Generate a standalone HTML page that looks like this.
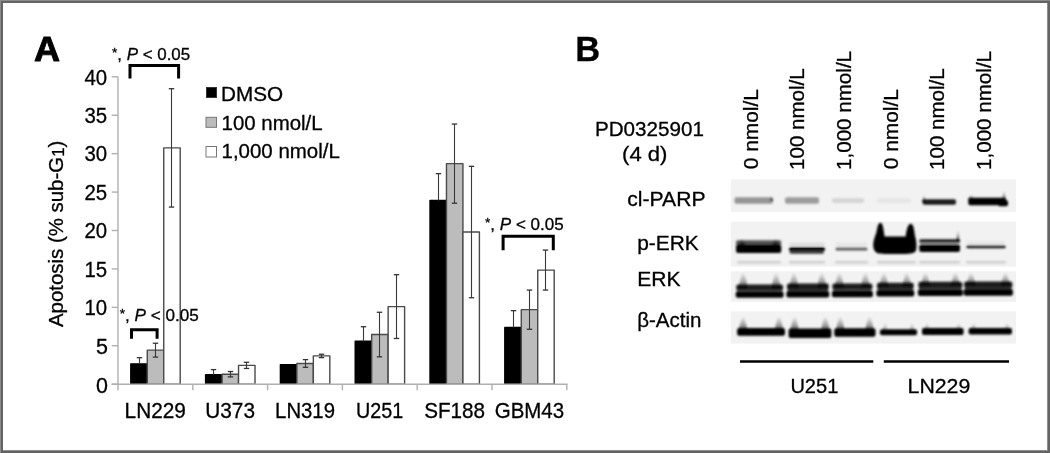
<!DOCTYPE html>
<html><head><meta charset="utf-8"><style>
html,body{margin:0;padding:0;background:#fff;}
body{width:1050px;height:453px;overflow:hidden;position:relative;}
svg{position:absolute;left:0;top:0;}
.t{font-family:"Liberation Sans",sans-serif;fill:#000;stroke:#000;stroke-width:0.3px;}
.b{font-family:"Liberation Sans",sans-serif;font-weight:bold;fill:#000;stroke:#000;stroke-width:0.9px;stroke-linejoin:round;}
.b2{stroke-width:0.3px;}
</style></head><body>
<svg width="1050" height="453" viewBox="0 0 1050 453">
<defs><linearGradient id="eg" x1="0" y1="0" x2="0" y2="1"><stop offset="0" stop-color="#000" stop-opacity="0"/><stop offset="0.6" stop-color="#000" stop-opacity="0.45"/><stop offset="1" stop-color="#000" stop-opacity="1"/></linearGradient>
<filter id="bb" x="-5%" y="-30%" width="110%" height="160%"><feGaussianBlur stdDeviation="1.3"/></filter>
<filter id="sb" x="-2%" y="-10%" width="104%" height="120%"><feGaussianBlur stdDeviation="0.6"/></filter></defs>
<rect x="0" y="0" width="1050" height="453" fill="#646464"/>
<rect x="0" y="0" width="1050" height="1" fill="#8a8a8a"/><rect x="0" y="0" width="1" height="453" fill="#8a8a8a"/>
<rect x="1047" y="3" width="1" height="448" fill="#8e8e8e"/><rect x="3" y="450" width="1045" height="1" fill="#8e8e8e"/>
<rect x="3" y="3" width="1044" height="447" fill="#fff"/>

<path d="M130 78.5 V65.5 H178.6 V78.5" fill="none" stroke="#000" stroke-width="3"/>
<path d="M131.5 338.7 V329.7 H157.1 V338.7" fill="none" stroke="#000" stroke-width="3"/>
<path d="M503.1 250.3 V236.3 H553.3 V250.3" fill="none" stroke="#000" stroke-width="3"/>
<rect x="206.5" y="87.5" width="10" height="10" fill="#000" stroke="#333"/>
<rect x="206" y="117.3" width="10.5" height="10" fill="#bcbcbc" stroke="#777"/>
<rect x="206" y="146.5" width="10.5" height="10.5" fill="#fff" stroke="#777"/>
<rect x="731" y="179.3" width="285" height="32.6" fill="#f2f2f2" filter="url(#sb)"/>
<rect x="731" y="221.6" width="285" height="45.0" fill="#f2f2f2" filter="url(#sb)"/>
<rect x="731" y="271.3" width="285" height="30.7" fill="#f2f2f2" filter="url(#sb)"/>
<rect x="731" y="311.4" width="285" height="32.2" fill="#f2f2f2" filter="url(#sb)"/>
<g filter="url(#bb)">
<rect x="734.5" y="197.2" width="38.5" height="6.6" rx="2.0" fill="#959595" opacity="1"/>
<path d="M770.0 201.0 C770.0 199.5 770.9 197.5 771.1 196.0 L771.9 196.0 C772.1 197.5 773.0 199.5 773.0 201.0 Z" fill="url(#eg)" opacity="1"/>
<rect x="785" y="197.2" width="34.0" height="6.6" rx="2.0" fill="#9c9c9c" opacity="1"/>
<rect x="832" y="198.3" width="32.0" height="4.7" rx="2.0" fill="#d4d4d4" opacity="1"/>
<rect x="877" y="198.5" width="34.0" height="4.3" rx="2.0" fill="#e4e4e4" opacity="1"/>
<rect x="922.6" y="199.3" width="33.4" height="5.5" rx="2.0" fill="#1e1e1e" opacity="1"/>
<path d="M922.2 202.0 C922.2 200.1 923.3 197.4 923.6 195.5 L924.4 195.5 C924.7 197.4 925.8 200.1 925.8 202.0 Z" fill="url(#eg)" opacity="1"/>
<rect x="968.3" y="197.8" width="37.7" height="7.5" rx="2.0" fill="#000" opacity="1"/>
<path d="M968.0 200.0 C968.0 198.5 969.8 196.5 970.3 195.0 L971.7 195.0 C972.2 196.5 974.0 198.5 974.0 200.0 Z" fill="url(#eg)" opacity="1"/>
<path d="M1002.0 201.0 C1002.0 198.0 1003.2 194.0 1003.5 191.0 L1004.5 191.0 C1004.8 194.0 1006.0 198.0 1006.0 201.0 Z" fill="url(#eg)" opacity="1"/>
<rect x="998" y="200" width="10.0" height="6.3" rx="2.0" fill="#000" opacity="1"/>
<rect x="736" y="240.2" width="45.3" height="5.3" rx="2.0" fill="#555" opacity="1"/>
<rect x="736" y="244.5" width="45.3" height="8.6" rx="2.0" fill="#000" opacity="1"/>
<path d="M738.5 246.0 C738.5 243.8 740.6 240.8 741.2 238.6 L742.8 238.6 C743.4 240.8 745.5 243.8 745.5 246.0 Z" fill="url(#eg)" opacity="1"/>
<path d="M772.0 246.0 C772.0 243.8 774.1 240.8 774.7 238.6 L776.3 238.6 C776.9 240.8 779.0 243.8 779.0 246.0 Z" fill="url(#eg)" opacity="1"/>
<rect x="789" y="242.4" width="36.0" height="3.6" rx="1.8" fill="#dcdcdc" opacity="1"/>
<rect x="789" y="247" width="36.0" height="4.2" rx="2.0" fill="#050505" opacity="1"/>
<rect x="789.5" y="250.5" width="34.5" height="3.2" rx="1.6" fill="#3a3a3a" opacity="1"/>
<rect x="835.5" y="247.5" width="32.0" height="3.1" rx="1.5" fill="#5c5c5c" opacity="1"/>
<rect x="836" y="242.5" width="31.0" height="4.0" rx="2.0" fill="#e6e6e6" opacity="1"/>
<path d="M873.2 246 C873.2 240 875 237 876.5 232 C877.5 227 878 223 880.6 222.8 C883 223 883.6 230 884.6 236.6 L905.6 236.6 C906.6 230 907.6 224 910.8 223.8 C913.6 224 914.2 230 915 236 C916.4 240 916.8 246 916.2 249.5 C915.5 253.7 910 253.9 904 253.9 L885 253.9 C878 253.9 874 253.5 873.2 246 Z" fill="#000"/>
<rect x="919.3" y="239.3" width="40.7" height="3.9" rx="1.9" fill="#1a1a1a" opacity="1"/>
<rect x="920" y="242.8" width="39.0" height="1.4" rx="0.7" fill="#b0b0b0" opacity="1"/>
<rect x="919.3" y="244.3" width="40.7" height="7.7" rx="2.0" fill="#000" opacity="1"/>
<path d="M956.5 242.0 C956.5 238.4 957.4 233.6 957.6 230.0 L958.4 230.0 C958.6 233.6 959.5 238.4 959.5 242.0 Z" fill="url(#eg)" opacity="1"/>
<rect x="966.4" y="245.3" width="39.3" height="3.0" rx="1.5" fill="#1e1e1e" opacity="1"/>
<rect x="967" y="241" width="38.0" height="3.5" rx="1.8" fill="#e6e6e6" opacity="1"/>
<rect x="737" y="261" width="44.0" height="2.6" rx="1.3" fill="#cdcdcd" opacity="1"/>
<rect x="789" y="261" width="36.0" height="2.6" rx="1.3" fill="#cdcdcd" opacity="1"/>
<rect x="835" y="261" width="33.0" height="2.6" rx="1.3" fill="#cdcdcd" opacity="1"/>
<rect x="877" y="261" width="39.0" height="2.6" rx="1.3" fill="#cdcdcd" opacity="1"/>
<rect x="919" y="261" width="41.0" height="2.6" rx="1.3" fill="#cdcdcd" opacity="1"/>
<rect x="966" y="261" width="40.0" height="2.6" rx="1.3" fill="#cdcdcd" opacity="1"/>
<rect x="736.2" y="284.5" width="46.9" height="6.0" rx="2.0" fill="#1a1a1a" opacity="1"/>
<rect x="736.7" y="290.34999999999997" width="45.9" height="1.3" rx="0.7" fill="#3a3a3a" opacity="1"/>
<rect x="735.7" y="291.54999999999995" width="47.9" height="6.3" rx="2.0" fill="#000" opacity="1"/>
<path d="M738.7 288.5 C738.7 283.7 741.4 277.3 742.1 272.5 L744.3 272.5 C745.0 277.3 747.7 283.7 747.7 288.5 Z" fill="url(#eg)" opacity="0.75"/>
<path d="M771.6 288.5 C771.6 283.7 774.3 277.3 775.0 272.5 L777.2 272.5 C777.9 277.3 780.6 283.7 780.6 288.5 Z" fill="url(#eg)" opacity="0.75"/>
<rect x="786.9" y="283.5" width="41.9" height="6.4" rx="2.0" fill="#1a1a1a" opacity="1"/>
<rect x="787.4" y="289.7" width="40.9" height="1.3" rx="0.7" fill="#3a3a3a" opacity="1"/>
<rect x="786.4" y="290.9" width="42.9" height="6.6" rx="2.0" fill="#000" opacity="1"/>
<path d="M789.4 287.5 C789.4 283.0 792.1 277.0 792.8 272.5 L795.0 272.5 C795.7 277.0 798.4 283.0 798.4 287.5 Z" fill="url(#eg)" opacity="0.75"/>
<path d="M817.3 287.5 C817.3 283.0 820.0 277.0 820.7 272.5 L822.9 272.5 C823.6 277.0 826.3 283.0 826.3 287.5 Z" fill="url(#eg)" opacity="0.75"/>
<rect x="832.4" y="283.5" width="40.0" height="6.2" rx="2.0" fill="#1a1a1a" opacity="1"/>
<rect x="832.9" y="289.55" width="39.0" height="1.3" rx="0.7" fill="#3a3a3a" opacity="1"/>
<rect x="831.9" y="290.75" width="41.0" height="6.4" rx="2.0" fill="#000" opacity="1"/>
<path d="M834.9 287.5 C834.9 283.0 837.6 277.0 838.3 272.5 L840.5 272.5 C841.2 277.0 843.9 283.0 843.9 287.5 Z" fill="url(#eg)" opacity="0.75"/>
<path d="M860.9 287.5 C860.9 283.0 863.6 277.0 864.3 272.5 L866.5 272.5 C867.2 277.0 869.9 283.0 869.9 287.5 Z" fill="url(#eg)" opacity="0.75"/>
<rect x="876.9" y="282.8" width="36.9" height="6.2" rx="2.0" fill="#1a1a1a" opacity="1"/>
<rect x="877.4" y="288.8" width="35.9" height="1.3" rx="0.7" fill="#3a3a3a" opacity="1"/>
<rect x="876.4" y="290.0" width="37.9" height="6.4" rx="2.0" fill="#000" opacity="1"/>
<path d="M879.4 286.8 C879.4 282.5 882.1 276.8 882.8 272.5 L885.0 272.5 C885.7 276.8 888.4 282.5 888.4 286.8 Z" fill="url(#eg)" opacity="0.75"/>
<path d="M902.3 286.8 C902.3 282.5 905.0 276.8 905.7 272.5 L907.9 272.5 C908.6 276.8 911.3 282.5 911.3 286.8 Z" fill="url(#eg)" opacity="0.75"/>
<rect x="918.4" y="281.8" width="44.0" height="6.5" rx="2.0" fill="#1a1a1a" opacity="1"/>
<rect x="918.9" y="288.09999999999997" width="43.0" height="1.3" rx="0.7" fill="#3a3a3a" opacity="1"/>
<rect x="917.9" y="289.29999999999995" width="45.0" height="6.7" rx="2.0" fill="#000" opacity="1"/>
<path d="M920.9 285.8 C920.9 281.8 923.6 276.5 924.3 272.5 L926.5 272.5 C927.2 276.5 929.9 281.8 929.9 285.8 Z" fill="url(#eg)" opacity="0.75"/>
<path d="M950.9 285.8 C950.9 281.8 953.6 276.5 954.3 272.5 L956.5 272.5 C957.2 276.5 959.9 281.8 959.9 285.8 Z" fill="url(#eg)" opacity="0.75"/>
<rect x="964.1" y="281.5" width="48.3" height="6.5" rx="2.0" fill="#1a1a1a" opacity="1"/>
<rect x="964.6" y="287.8" width="47.3" height="1.3" rx="0.7" fill="#3a3a3a" opacity="1"/>
<rect x="963.6" y="289.0" width="49.3" height="6.7" rx="2.0" fill="#000" opacity="1"/>
<path d="M966.6 285.5 C966.6 281.6 969.3 276.4 970.0 272.5 L972.2 272.5 C972.9 276.4 975.6 281.6 975.6 285.5 Z" fill="url(#eg)" opacity="0.75"/>
<path d="M1000.9 285.5 C1000.9 281.6 1003.6 276.4 1004.3 272.5 L1006.5 272.5 C1007.2 276.4 1009.9 281.6 1009.9 285.5 Z" fill="url(#eg)" opacity="0.75"/>
<rect x="737.1" y="327.9" width="47.9" height="7.8" rx="2.0" fill="#000" opacity="1"/>
<path d="M738.6 331.9 C738.6 327.3 741.3 321.1 742.0 316.5 L744.2 316.5 C744.9 321.1 747.6 327.3 747.6 331.9 Z" fill="url(#eg)" opacity="0.85"/>
<path d="M774.5 331.9 C774.5 327.3 777.2 321.1 777.9 316.5 L780.1 316.5 C780.8 321.1 783.5 327.3 783.5 331.9 Z" fill="url(#eg)" opacity="0.85"/>
<rect x="788.6" y="328.6" width="42.8" height="9.3" rx="2.0" fill="#000" opacity="1"/>
<path d="M790.1 332.6 C790.1 327.8 792.8 321.3 793.5 316.5 L795.7 316.5 C796.4 321.3 799.1 327.8 799.1 332.6 Z" fill="url(#eg)" opacity="0.85"/>
<path d="M820.9 332.6 C820.9 327.8 823.6 321.3 824.3 316.5 L826.5 316.5 C827.2 321.3 829.9 327.8 829.9 332.6 Z" fill="url(#eg)" opacity="0.85"/>
<rect x="834.3" y="328.2" width="41.2" height="8.6" rx="2.0" fill="#000" opacity="1"/>
<path d="M835.8 332.2 C835.8 327.5 838.5 321.2 839.2 316.5 L841.4 316.5 C842.1 321.2 844.8 327.5 844.8 332.2 Z" fill="url(#eg)" opacity="0.85"/>
<path d="M865.0 332.2 C865.0 327.5 867.7 321.2 868.4 316.5 L870.6 316.5 C871.3 321.2 874.0 327.5 874.0 332.2 Z" fill="url(#eg)" opacity="0.85"/>
<rect x="880" y="329.3" width="37.0" height="5.9" rx="2.0" fill="#000" opacity="1"/>
<path d="M882.5 332.3 C882.5 329.5 884.0 325.8 884.4 323.0 L885.6 323.0 C886.0 325.8 887.5 329.5 887.5 332.3 Z" fill="url(#eg)" opacity="0.6"/>
<path d="M909.5 332.3 C909.5 329.5 911.0 325.8 911.4 323.0 L912.6 323.0 C913.0 325.8 914.5 329.5 914.5 332.3 Z" fill="url(#eg)" opacity="0.6"/>
<rect x="922" y="327.9" width="41.6" height="7.2" rx="2.0" fill="#000" opacity="1"/>
<path d="M924.5 330.9 C924.5 328.5 926.0 325.4 926.4 323.0 L927.6 323.0 C928.0 325.4 929.5 328.5 929.5 330.9 Z" fill="url(#eg)" opacity="0.6"/>
<path d="M956.1 330.9 C956.1 328.5 957.6 325.4 958.0 323.0 L959.2 323.0 C959.6 325.4 961.1 328.5 961.1 330.9 Z" fill="url(#eg)" opacity="0.6"/>
<rect x="968.6" y="327.9" width="43.4" height="6.6" rx="2.0" fill="#000" opacity="1"/>
<path d="M971.1 330.9 C971.1 328.5 972.6 325.4 973.0 323.0 L974.2 323.0 C974.6 325.4 976.1 328.5 976.1 330.9 Z" fill="url(#eg)" opacity="0.6"/>
<path d="M1004.5 330.9 C1004.5 328.5 1006.0 325.4 1006.4 323.0 L1007.6 323.0 C1008.0 325.4 1009.5 328.5 1009.5 330.9 Z" fill="url(#eg)" opacity="0.6"/>
</g>
<line x1="740" y1="361.5" x2="873.3" y2="361.5" stroke="#000" stroke-width="2.4"/>
<line x1="883.8" y1="361.5" x2="1009" y2="361.5" stroke="#000" stroke-width="2.4"/>

<rect x="130.80" y="363.83" width="16.47" height="20.37" fill="#000" stroke="#000" stroke-width="1.4" stroke-linejoin="round"/>
<line x1="139.50" y1="357.69" x2="139.50" y2="363.83" stroke="#3a3a3a" stroke-width="1.1"/>
<line x1="136.80" y1="357.69" x2="142.20" y2="357.69" stroke="#333" stroke-width="1.3"/>
<rect x="147.27" y="350.16" width="16.47" height="34.04" fill="#bcbcbc" stroke="#4a4a4a" stroke-width="1.4" stroke-linejoin="round"/>
<line x1="155.50" y1="343.24" x2="155.50" y2="357.07" stroke="#3a3a3a" stroke-width="1.1"/>
<line x1="152.80" y1="343.24" x2="158.20" y2="343.24" stroke="#333" stroke-width="1.3"/>
<line x1="152.80" y1="357.07" x2="158.20" y2="357.07" stroke="#333" stroke-width="1.3"/>
<rect x="163.74" y="147.89" width="16.47" height="236.31" fill="#fff" stroke="#4a4a4a" stroke-width="1.4" stroke-linejoin="round"/>
<line x1="171.50" y1="88.71" x2="171.50" y2="207.06" stroke="#3a3a3a" stroke-width="1.1"/>
<line x1="168.80" y1="88.71" x2="174.20" y2="88.71" stroke="#333" stroke-width="1.3"/>
<line x1="168.80" y1="207.06" x2="174.20" y2="207.06" stroke="#333" stroke-width="1.3"/>
<rect x="205.60" y="374.67" width="16.47" height="9.53" fill="#000" stroke="#000" stroke-width="1.4" stroke-linejoin="round"/>
<line x1="213.50" y1="369.60" x2="213.50" y2="374.67" stroke="#3a3a3a" stroke-width="1.1"/>
<line x1="210.80" y1="369.60" x2="216.20" y2="369.60" stroke="#333" stroke-width="1.3"/>
<rect x="222.07" y="374.21" width="16.47" height="9.99" fill="#bcbcbc" stroke="#4a4a4a" stroke-width="1.4" stroke-linejoin="round"/>
<line x1="230.50" y1="371.52" x2="230.50" y2="376.90" stroke="#3a3a3a" stroke-width="1.1"/>
<line x1="227.80" y1="371.52" x2="233.20" y2="371.52" stroke="#333" stroke-width="1.3"/>
<line x1="227.80" y1="376.90" x2="233.20" y2="376.90" stroke="#333" stroke-width="1.3"/>
<rect x="238.54" y="365.37" width="16.47" height="18.83" fill="#fff" stroke="#4a4a4a" stroke-width="1.4" stroke-linejoin="round"/>
<line x1="246.50" y1="362.30" x2="246.50" y2="368.45" stroke="#3a3a3a" stroke-width="1.1"/>
<line x1="243.80" y1="362.30" x2="249.20" y2="362.30" stroke="#333" stroke-width="1.3"/>
<line x1="243.80" y1="368.45" x2="249.20" y2="368.45" stroke="#333" stroke-width="1.3"/>
<rect x="280.40" y="364.60" width="16.47" height="19.60" fill="#000" stroke="#000" stroke-width="1.4" stroke-linejoin="round"/>
<rect x="296.87" y="363.45" width="16.47" height="20.75" fill="#bcbcbc" stroke="#4a4a4a" stroke-width="1.4" stroke-linejoin="round"/>
<line x1="305.50" y1="359.61" x2="305.50" y2="367.29" stroke="#3a3a3a" stroke-width="1.1"/>
<line x1="302.80" y1="359.61" x2="308.20" y2="359.61" stroke="#333" stroke-width="1.3"/>
<line x1="302.80" y1="367.29" x2="308.20" y2="367.29" stroke="#333" stroke-width="1.3"/>
<rect x="313.34" y="355.92" width="16.47" height="28.28" fill="#fff" stroke="#4a4a4a" stroke-width="1.4" stroke-linejoin="round"/>
<line x1="321.50" y1="354.23" x2="321.50" y2="357.61" stroke="#3a3a3a" stroke-width="1.1"/>
<line x1="318.80" y1="354.23" x2="324.20" y2="354.23" stroke="#333" stroke-width="1.3"/>
<line x1="318.80" y1="357.61" x2="324.20" y2="357.61" stroke="#333" stroke-width="1.3"/>
<rect x="355.20" y="341.32" width="16.47" height="42.88" fill="#000" stroke="#000" stroke-width="1.4" stroke-linejoin="round"/>
<line x1="363.50" y1="326.72" x2="363.50" y2="341.32" stroke="#3a3a3a" stroke-width="1.1"/>
<line x1="360.80" y1="326.72" x2="366.20" y2="326.72" stroke="#333" stroke-width="1.3"/>
<rect x="371.67" y="334.55" width="16.47" height="49.65" fill="#bcbcbc" stroke="#4a4a4a" stroke-width="1.4" stroke-linejoin="round"/>
<line x1="379.50" y1="312.27" x2="379.50" y2="356.84" stroke="#3a3a3a" stroke-width="1.1"/>
<line x1="376.80" y1="312.27" x2="382.20" y2="312.27" stroke="#333" stroke-width="1.3"/>
<line x1="376.80" y1="356.84" x2="382.20" y2="356.84" stroke="#333" stroke-width="1.3"/>
<rect x="388.14" y="306.58" width="16.47" height="77.62" fill="#fff" stroke="#4a4a4a" stroke-width="1.4" stroke-linejoin="round"/>
<line x1="396.50" y1="274.69" x2="396.50" y2="338.47" stroke="#3a3a3a" stroke-width="1.1"/>
<line x1="393.80" y1="274.69" x2="399.20" y2="274.69" stroke="#333" stroke-width="1.3"/>
<line x1="393.80" y1="338.47" x2="399.20" y2="338.47" stroke="#333" stroke-width="1.3"/>
<rect x="430.00" y="200.53" width="16.47" height="183.67" fill="#000" stroke="#000" stroke-width="1.4" stroke-linejoin="round"/>
<line x1="438.50" y1="173.63" x2="438.50" y2="200.53" stroke="#3a3a3a" stroke-width="1.1"/>
<line x1="435.80" y1="173.63" x2="441.20" y2="173.63" stroke="#333" stroke-width="1.3"/>
<rect x="446.47" y="163.64" width="16.47" height="220.56" fill="#bcbcbc" stroke="#4a4a4a" stroke-width="1.4" stroke-linejoin="round"/>
<line x1="454.50" y1="124.06" x2="454.50" y2="203.22" stroke="#3a3a3a" stroke-width="1.1"/>
<line x1="451.80" y1="124.06" x2="457.20" y2="124.06" stroke="#333" stroke-width="1.3"/>
<line x1="451.80" y1="203.22" x2="457.20" y2="203.22" stroke="#333" stroke-width="1.3"/>
<rect x="462.94" y="232.04" width="16.47" height="152.16" fill="#fff" stroke="#4a4a4a" stroke-width="1.4" stroke-linejoin="round"/>
<line x1="471.50" y1="166.33" x2="471.50" y2="297.74" stroke="#3a3a3a" stroke-width="1.1"/>
<line x1="468.80" y1="166.33" x2="474.20" y2="166.33" stroke="#333" stroke-width="1.3"/>
<line x1="468.80" y1="297.74" x2="474.20" y2="297.74" stroke="#333" stroke-width="1.3"/>
<rect x="504.80" y="327.56" width="16.47" height="56.64" fill="#000" stroke="#000" stroke-width="1.4" stroke-linejoin="round"/>
<line x1="513.50" y1="310.65" x2="513.50" y2="327.56" stroke="#3a3a3a" stroke-width="1.1"/>
<line x1="510.80" y1="310.65" x2="516.20" y2="310.65" stroke="#333" stroke-width="1.3"/>
<rect x="521.27" y="309.66" width="16.47" height="74.54" fill="#bcbcbc" stroke="#4a4a4a" stroke-width="1.4" stroke-linejoin="round"/>
<line x1="529.50" y1="290.06" x2="529.50" y2="329.25" stroke="#3a3a3a" stroke-width="1.1"/>
<line x1="526.80" y1="290.06" x2="532.20" y2="290.06" stroke="#333" stroke-width="1.3"/>
<line x1="526.80" y1="329.25" x2="532.20" y2="329.25" stroke="#333" stroke-width="1.3"/>
<rect x="537.74" y="270.08" width="16.47" height="114.12" fill="#fff" stroke="#4a4a4a" stroke-width="1.4" stroke-linejoin="round"/>
<line x1="545.50" y1="250.10" x2="545.50" y2="290.06" stroke="#3a3a3a" stroke-width="1.1"/>
<line x1="542.80" y1="250.10" x2="548.20" y2="250.10" stroke="#333" stroke-width="1.3"/>
<line x1="542.80" y1="290.06" x2="548.20" y2="290.06" stroke="#333" stroke-width="1.3"/>
<line x1="118.0" y1="76.80000000000001" x2="118.0" y2="390.2" stroke="#b0b0b0" stroke-width="1.4"/>
<line x1="111.7" y1="384.2" x2="567.5999999999999" y2="384.2" stroke="#b0b0b0" stroke-width="1.4"/>
<line x1="111.7" y1="384.20" x2="118.0" y2="384.20" stroke="#b0b0b0" stroke-width="1.4"/>
<line x1="111.7" y1="345.77" x2="118.0" y2="345.77" stroke="#b0b0b0" stroke-width="1.4"/>
<line x1="111.7" y1="307.35" x2="118.0" y2="307.35" stroke="#b0b0b0" stroke-width="1.4"/>
<line x1="111.7" y1="268.93" x2="118.0" y2="268.93" stroke="#b0b0b0" stroke-width="1.4"/>
<line x1="111.7" y1="230.50" x2="118.0" y2="230.50" stroke="#b0b0b0" stroke-width="1.4"/>
<line x1="111.7" y1="192.07" x2="118.0" y2="192.07" stroke="#b0b0b0" stroke-width="1.4"/>
<line x1="111.7" y1="153.65" x2="118.0" y2="153.65" stroke="#b0b0b0" stroke-width="1.4"/>
<line x1="111.7" y1="115.23" x2="118.0" y2="115.23" stroke="#b0b0b0" stroke-width="1.4"/>
<line x1="111.7" y1="76.80" x2="118.0" y2="76.80" stroke="#b0b0b0" stroke-width="1.4"/>
<line x1="192.80" y1="384.2" x2="192.80" y2="390.2" stroke="#b0b0b0" stroke-width="1.4"/>
<line x1="267.60" y1="384.2" x2="267.60" y2="390.2" stroke="#b0b0b0" stroke-width="1.4"/>
<line x1="342.40" y1="384.2" x2="342.40" y2="390.2" stroke="#b0b0b0" stroke-width="1.4"/>
<line x1="417.20" y1="384.2" x2="417.20" y2="390.2" stroke="#b0b0b0" stroke-width="1.4"/>
<line x1="492.00" y1="384.2" x2="492.00" y2="390.2" stroke="#b0b0b0" stroke-width="1.4"/>
<line x1="566.80" y1="384.2" x2="566.80" y2="390.2" stroke="#b0b0b0" stroke-width="1.4"/>
<text x="96.04" y="392.60" class="t" font-size="21.67" textLength="11.93" lengthAdjust="spacingAndGlyphs">0</text>
<text x="96.04" y="354.18" class="t" font-size="21.67" textLength="11.93" lengthAdjust="spacingAndGlyphs">5</text>
<text x="84.48" y="315.06" class="t" font-size="21.57" textLength="22.66" lengthAdjust="spacingAndGlyphs">10</text>
<text x="84.48" y="276.63" class="t" font-size="21.57" textLength="22.66" lengthAdjust="spacingAndGlyphs">15</text>
<text x="84.48" y="238.21" class="t" font-size="21.57" textLength="22.66" lengthAdjust="spacingAndGlyphs">20</text>
<text x="84.48" y="199.78" class="t" font-size="21.57" textLength="22.66" lengthAdjust="spacingAndGlyphs">25</text>
<text x="84.48" y="161.36" class="t" font-size="21.57" textLength="22.66" lengthAdjust="spacingAndGlyphs">30</text>
<text x="84.48" y="122.93" class="t" font-size="21.57" textLength="22.66" lengthAdjust="spacingAndGlyphs">35</text>
<text x="84.48" y="84.51" class="t" font-size="21.57" textLength="22.66" lengthAdjust="spacingAndGlyphs">40</text>
<text x="33.98" y="61.16" class="b" font-size="35.47" textLength="26.07" lengthAdjust="spacingAndGlyphs">A</text>
<text x="575.20" y="61.43" class="b b2" font-size="35.87" textLength="24.91" lengthAdjust="spacingAndGlyphs">B</text>
<text x="221.06" y="101.13" class="t" font-size="19.70" textLength="62.09" lengthAdjust="spacingAndGlyphs">DMSO</text>
<text x="221.54" y="130.38" class="t" font-size="19.70" textLength="101.05" lengthAdjust="spacingAndGlyphs">100 nmol/L</text>
<text x="221.54" y="158.39" class="t" font-size="19.70" textLength="118.23" lengthAdjust="spacingAndGlyphs">1,000 nmol/L</text>
<text x="124.56" y="417.54" class="t" font-size="21.79" textLength="61.39" lengthAdjust="spacingAndGlyphs">LN229</text>
<text x="205.24" y="417.54" class="t" font-size="21.79" textLength="49.73" lengthAdjust="spacingAndGlyphs">U373</text>
<text x="275.08" y="417.54" class="t" font-size="21.79" textLength="59.90" lengthAdjust="spacingAndGlyphs">LN319</text>
<text x="356.06" y="417.54" class="t" font-size="21.79" textLength="47.23" lengthAdjust="spacingAndGlyphs">U251</text>
<text x="424.20" y="417.54" class="t" font-size="21.79" textLength="60.88" lengthAdjust="spacingAndGlyphs">SF188</text>
<text x="494.70" y="417.54" class="t" font-size="21.79" textLength="69.47" lengthAdjust="spacingAndGlyphs">GBM43</text>
<text x="112.00" y="59.55" class="t" font-size="16.40" textLength="78.18" lengthAdjust="spacingAndGlyphs"><tspan style="font-size:0.8em" dy="-2.6">*</tspan><tspan dy="2.6">, </tspan><tspan font-style="italic">P</tspan> &lt; 0.05</text>
<text x="119.70" y="321.00" class="t" font-size="16.40" textLength="79.14" lengthAdjust="spacingAndGlyphs"><tspan style="font-size:0.8em" dy="-2.6">*</tspan><tspan dy="2.6">, </tspan><tspan font-style="italic">P</tspan> &lt; 0.05</text>
<text x="485.08" y="229.68" class="t" font-size="16.40" textLength="78.69" lengthAdjust="spacingAndGlyphs"><tspan style="font-size:0.8em" dy="-2.6">*</tspan><tspan dy="2.6">, </tspan><tspan font-style="italic">P</tspan> &lt; 0.05</text>
<text x="594.96" y="135.71" class="t" font-size="20.70" textLength="108.94" lengthAdjust="spacingAndGlyphs">PD0325901</text>
<text x="622.06" y="161.47" class="t" font-size="20.70" textLength="45.39" lengthAdjust="spacingAndGlyphs">(4 d)</text>
<text x="627.20" y="206.30" class="t" font-size="20.30" textLength="78.31" lengthAdjust="spacingAndGlyphs">cl-PARP</text>
<text x="637.22" y="249.64" class="t" font-size="20.30" textLength="61.58" lengthAdjust="spacingAndGlyphs">p-ERK</text>
<text x="637.24" y="286.47" class="t" font-size="20.30" textLength="43.33" lengthAdjust="spacingAndGlyphs">ERK</text>
<text x="637.22" y="327.26" class="t" font-size="20.30" textLength="64.28" lengthAdjust="spacingAndGlyphs">&#946;-Actin</text>
<text x="790.38" y="392.56" class="t" font-size="20.70" textLength="47.94" lengthAdjust="spacingAndGlyphs">U251</text>
<text x="907.56" y="392.56" class="t" font-size="20.70" textLength="62.75" lengthAdjust="spacingAndGlyphs">LN229</text>
<text transform="translate(63.00,327.02) rotate(-90)" class="t" font-size="20.66" textLength="186.33" lengthAdjust="spacingAndGlyphs">Apotosis (% sub-G<tspan font-size="17" dy="1">1</tspan><tspan dy="-1">)</tspan></text>
<text transform="translate(758.40,169.14) rotate(-90)" class="t" font-size="20.70" textLength="80.00" lengthAdjust="spacingAndGlyphs">0 nmol/L</text>
<text transform="translate(804.38,169.94) rotate(-90)" class="t" font-size="20.70" textLength="101.63" lengthAdjust="spacingAndGlyphs">100 nmol/L</text>
<text transform="translate(851.38,169.94) rotate(-90)" class="t" font-size="20.70" textLength="119.00" lengthAdjust="spacingAndGlyphs">1,000 nmol/L</text>
<text transform="translate(898.40,169.14) rotate(-90)" class="t" font-size="20.70" textLength="80.00" lengthAdjust="spacingAndGlyphs">0 nmol/L</text>
<text transform="translate(944.38,169.94) rotate(-90)" class="t" font-size="20.70" textLength="101.63" lengthAdjust="spacingAndGlyphs">100 nmol/L</text>
<text transform="translate(991.38,169.94) rotate(-90)" class="t" font-size="20.70" textLength="119.00" lengthAdjust="spacingAndGlyphs">1,000 nmol/L</text>
</svg>
</body></html>
